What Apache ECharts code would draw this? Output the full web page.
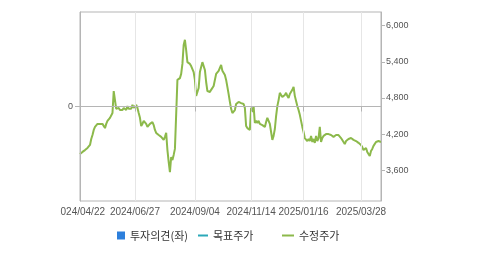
<!DOCTYPE html>
<html><head><meta charset="utf-8">
<script src="https://cdn.jsdelivr.net/npm/echarts@6/dist/echarts.min.js"></script>
<style>html,body{margin:0;padding:0;background:#fff;}#wrap{position:relative;width:479px;height:255px;overflow:hidden;}#c{position:absolute;left:60px;top:0;width:419px;height:255px;}</style>
</head><body><div id="wrap"><div id="c"></div></div>
<script>
// Trading-day categories (KRX), 2024/04/22 .. 2025/04/21
const startDate = '2024-04-22';
const pointCount = 242;
const holidays = ['2024-05-01','2024-05-06','2024-05-15','2024-06-06','2024-08-15','2024-09-16','2024-09-17','2024-09-18','2024-10-01','2024-10-03','2024-10-09','2024-12-25','2024-12-31','2025-01-01','2025-01-27','2025-01-28','2025-01-29','2025-01-30','2025-03-03'];
const xLabels = ['2024/04/22','2024/06/27','2024/09/04','2024/11/14','2025/01/16','2025/03/28'];
const yTicks = [3600, 4200, 4800, 5400, 6000];
const price = [
3870,3885,3905,3920,3935,3955,3970,3985,4020,4120,
4185,4270,4320,4350,4370,4350,4370,4385,4370,4335,
4300,4370,4420,4450,4470,4485,4550,4915,4765,4620,
4600,4635,4600,4620,4600,4635,4650,4600,4665,4620,
4650,4620,4685,4635,4665,4685,4635,4550,4470,4335,
4370,4420,4435,4370,4320,4350,4370,4385,4400,4350,
4270,4220,4220,4185,4185,4155,4170,4105,4155,4220,
3935,3740,3570,3820,3770,3855,3955,3985,5100,5115,
5130,5200,5365,5680,5765,5595,5395,5415,5365,5330,
5300,5230,5100,4835,4865,4965,5230,5315,5395,5415,
5265,5065,4915,4915,4900,4935,4965,5000,5030,5200,
5215,5250,5300,5350,5250,5230,5180,5100,4985,4865,
4735,4620,4550,4535,4600,4700,4715,4735,4735,4715,
4735,4700,4635,4335,4300,4285,4270,4635,4570,4665,
4385,4420,4385,4420,4370,4385,4350,4370,4320,4400,
4470,4450,4370,4235,4105,4170,4285,4500,4665,4765,
4885,4850,4815,4800,4850,4885,4835,4800,4865,4885,
4935,4985,4835,4750,4665,4600,4520,4420,4320,4235,
4135,4105,4085,4120,4085,4170,4070,4120,4055,4170,
4085,4135,4320,4070,4135,4170,4185,4200,4220,4200,
4185,4185,4170,4155,4170,4185,4200,4185,4155,4135,
4105,4070,4035,4085,4105,4120,4135,4135,4120,4105,
4105,4085,4070,4055,4035,4020,3985,3935,3955,3970,
3905,3870,3835,3920,3955,4005,4035,4070,4070,4085,
4070,4070];
const opinion = [];
const target = [];

function pad(n){return (n<10?'0':'')+n;}
const dates = [];
{
  const d = new Date(startDate + 'T00:00:00Z');
  while (dates.length < pointCount) {
    const iso = d.getUTCFullYear()+'-'+pad(d.getUTCMonth()+1)+'-'+pad(d.getUTCDate());
    const wd = d.getUTCDay();
    if (wd !== 0 && wd !== 6 && holidays.indexOf(iso) < 0) dates.push(iso.replace(/-/g,'/'));
    d.setUTCDate(d.getUTCDate()+1);
  }
}
const showIdx = (i, v) => xLabels.indexOf(v) >= 0;

const chart = echarts.init(document.getElementById('c'), null, {renderer:'canvas'});
const font = '"Liberation Sans", Arial, sans-serif';
const kfont = '"Noto Sans CJK KR", sans-serif';
const legendBase = {top: 230, itemGap: 0, padding: 0, textStyle:{fontSize:11, color:'#333', fontFamily:kfont}, selectedMode:false};
chart.setOption({
  animation: false,
  grid: {left: 20, right: 98, top: 12, bottom: 54, containLabel: false, outerBoundsMode: 'none', show: true, borderColor: '#b5b5b5', borderWidth: 1, backgroundColor: 'transparent'},
  legend: [
    Object.assign({}, legendBase, {left: 57, data:['투자의견(좌)'], icon:'rect', itemWidth: 8, itemHeight: 8}),
    Object.assign({}, legendBase, {left: 138, data:['목표주가'], icon:'rect', itemWidth: 10, itemHeight: 2}),
    Object.assign({}, legendBase, {left: 222, data:['수정주가'], icon:'rect', itemWidth: 12, itemHeight: 2})
  ],
  xAxis: {
    type: 'category', data: dates, boundaryGap: false, z: 5,
    axisLine: {lineStyle: {color: '#b5b5b5'}},
    axisTick: {interval: showIdx, length: 5, lineStyle:{color:'#b5b5b5'}},
    axisLabel: {interval: showIdx, color: '#555', fontSize: 10, fontFamily: font, margin: 6},
    splitLine: {show: true, interval: showIdx, lineStyle: {color: '#e6e6e6'}}
  },
  yAxis: [
    {type: 'value', position: 'left', min: -1, max: 1, interval: 1, z: 5,
     axisLine: {show: true, lineStyle: {color: '#b5b5b5'}},
     axisTick: {show: true, length: 5, customValues: [0], lineStyle:{color:'#b5b5b5'}},
     axisLabel: {customValues: [0], formatter: v => String(v), color: '#555', fontSize: 9, fontFamily: font, margin: 7},
     splitLine: {show: true, showMinLine: false, showMaxLine: false, lineStyle: {color: '#e6e6e6'}}},
    {type: 'value', position: 'right', min: 3090, max: 6227, z: 5,
     axisLine: {show: true, lineStyle: {color: '#b5b5b5'}},
     axisTick: {show: true, length: 4, customValues: yTicks, lineStyle:{color:'#b5b5b5'}},
     axisLabel: {customValues: yTicks, formatter: v => v.toLocaleString('en-US'), color: '#555', fontSize: 9, fontFamily: font, margin: 5},
     splitLine: {show: false}}
  ],
  series: [
    {name: '투자의견(좌)', type: 'bar', yAxisIndex: 0, data: opinion, itemStyle: {color: '#2d7fdc'}},
    {name: '목표주가', type: 'line', yAxisIndex: 1, data: target, itemStyle: {color: '#2ba9b9'}, lineStyle:{color:'#2ba9b9'}},
    {name: '수정주가', type: 'line', yAxisIndex: 1, data: price, showSymbol: false, symbol: 'none',
     itemStyle: {color: '#8cb94b'}, lineStyle: {color: '#8cb94b', width: 2}, z: 3}
  ]
});
</script></body></html>
